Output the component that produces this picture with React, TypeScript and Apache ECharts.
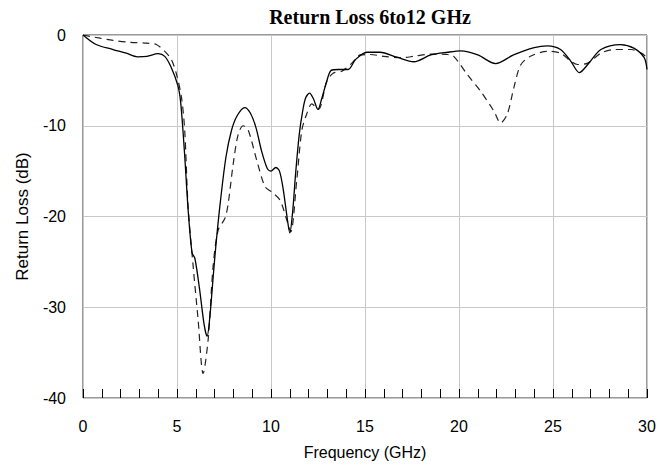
import React, { useEffect, useRef } from "react";
import * as echarts from "echarts";

const titleText = "Return Loss 6to12 GHz";
const xAxisName = "Frequency (GHz)";
const yAxisName = "Return Loss (dB)";

const solidFreq = [
  0, 0.7, 1.6, 2.3, 2.9, 3.4, 4.0, 4.35, 4.7, 5.05, 5.2, 5.4, 5.6, 5.8, 5.95,
  6.2, 6.45, 6.6, 6.75, 6.95, 7.1, 7.3, 7.6, 7.9, 8.2, 8.6, 8.9, 9.2, 9.5, 9.8,
  10.0, 10.25, 10.45, 10.65, 10.85, 11.0, 11.15, 11.3, 11.5, 11.7, 11.85, 12.05,
  12.25, 12.5, 12.7, 12.95, 13.2, 13.6, 14.1, 14.5, 15.1, 15.8, 16.7, 17.6, 18.5,
  19.4, 20.1, 21.0, 21.95, 22.9, 24.0, 24.7, 25.4, 25.95, 26.4, 26.85, 27.55,
  28.6, 29.3, 29.85, 30,
];
const solidLoss = [
  0, -1.05, -1.6, -2.0, -2.4, -2.35, -2.05, -2.35, -3.6, -5.6, -7.5, -13, -19.5,
  -24, -24.6, -28, -32, -33.2, -31, -26, -22.5, -18.5, -13.5, -10.5, -8.9, -8.0,
  -8.6, -10.2, -12.8, -14.7, -15.0, -14.6, -15.0, -17, -20, -21.8, -19.5, -15.5,
  -11, -8.2, -6.9, -6.4, -7.0, -8.2, -7.0, -5.2, -3.9, -3.8, -3.8, -2.7, -1.9,
  -1.9, -2.45, -2.95, -2.2, -1.9, -1.75, -2.2, -3.15, -2.2, -1.4, -1.2, -1.6,
  -2.9, -4.15, -3.25, -1.6, -1.05, -1.45, -2.5, -3.8,
];

const dashedFreq = [
  0, 0.9, 1.6, 2.5, 3.4, 3.9, 4.35, 4.7, 4.97, 5.24, 5.41, 5.59, 5.86, 6.12,
  6.39, 6.66, 6.92, 7.19, 7.55, 7.72, 7.99, 8.26, 8.52, 8.79, 9.24, 9.68, 10.04,
  10.48, 10.84, 11.05, 11.37, 11.64, 11.9, 12.17, 12.52, 12.97, 13.32, 13.77,
  14.3, 14.75, 15.28, 16.0, 16.9, 17.6, 18.5, 19.4, 19.72, 20.44, 21.15, 21.86,
  22.21, 22.57, 22.92, 23.28, 23.8, 24.7, 25.4, 25.95, 26.3, 26.85, 27.55, 28.25,
  29.15, 29.7, 30,
];
const dashedLoss = [
  0, -0.35, -0.6, -0.8, -0.9, -1.05, -1.8, -2.7, -4.3, -6.9, -10.5, -18.9, -25.5,
  -31.3, -37.3, -33.5, -25.5, -21.5, -20.2, -18.6, -14.2, -10.9, -10.0, -10.5,
  -13.8, -16.7, -17.3, -18.2, -20.4, -21.7, -16.0, -10.5, -8.7, -7.6, -8.2, -5.1,
  -4.2, -4.0, -3.1, -2.2, -2.15, -2.35, -2.5, -2.35, -2.1, -2.15, -2.35, -4.35,
  -6.2, -8.4, -9.7, -8.7, -5.8, -3.3, -2.35, -1.8, -2.0, -2.9, -3.25, -3.1, -2.0,
  -1.6, -1.6, -2.0, -2.5,
];

const xTicks = [0, 5, 10, 15, 20, 25, 30];
const yTicks = [0, -10, -20, -30, -40];

export default function App() {
  const ref = useRef<HTMLDivElement>(null);
  useEffect(() => {
    document.body.style.margin = "0";
    if (!ref.current) return;
    const chart = echarts.init(ref.current, undefined, { renderer: "svg" });
    const solid = solidFreq.map((f, i) => [f, solidLoss[i]]);
    const dashed = dashedFreq.map((f, i) => [f, dashedLoss[i]]);
    const sans = "Liberation Sans";
    chart.setOption({
      animation: false,
      backgroundColor: "#ffffff",
      title: {
        text: titleText,
        left: 365,
        textAlign: "center",
        top: 2,
        textStyle: {
          fontFamily: "Liberation Serif",
          fontWeight: "bold",
          fontSize: 20,
          color: "#000",
        },
      },
      grid: {
        left: 83,
        right: 13,
        top: 35,
        bottom: 70,
        show: true,
        borderColor: "#333",
        borderWidth: 1,
        backgroundColor: "transparent",
      },
      xAxis: [
        {
          type: "value",
          min: xTicks[0],
          max: xTicks[xTicks.length - 1],
          interval: 5,
          name: xAxisName,
          nameLocation: "middle",
          nameGap: 46,
          nameTextStyle: { fontFamily: sans, fontSize: 16, color: "#000" },
          axisLine: { show: false },
          axisTick: { show: false },
          axisLabel: { fontFamily: sans, fontSize: 16, color: "#000", margin: 20 },
          splitLine: { show: true, lineStyle: { color: "#c8c8c8", width: 1 } },
        },
        {
          type: "value",
          min: 0,
          max: 30,
          interval: 1,
          position: "bottom",
          axisLine: { show: false },
          axisLabel: { show: false },
          splitLine: { show: false },
          axisTick: { show: true, inside: true, length: 9, lineStyle: { color: "#000", width: 1 } },
        },
      ],
      yAxis: {
        type: "value",
        min: yTicks[yTicks.length - 1],
        max: yTicks[0],
        interval: 10,
        name: yAxisName,
        nameLocation: "middle",
        nameGap: 52,
        nameTextStyle: { fontFamily: sans, fontSize: 17, color: "#000" },
        axisLine: { show: false },
        axisTick: { show: false },
        axisLabel: { fontFamily: sans, fontSize: 16, color: "#000", margin: 17 },
        splitLine: { show: true, lineStyle: { color: "#c8c8c8", width: 1 } },
      },
      series: [
        {
          type: "line",
          data: solid,
          showSymbol: false,
          smooth: 0.3,
          lineStyle: { color: "#000", width: 1.3 },
          z: 3,
        },
        {
          type: "line",
          data: dashed,
          showSymbol: false,
          smooth: 0.3,
          lineStyle: { color: "#222", width: 1.2, type: [7, 5] },
          z: 2,
        },
      ],
    });
    return () => chart.dispose();
  }, []);
  return (
    <div
      ref={ref}
      style={{ position: "fixed", left: 0, top: 0, width: 660, height: 468 }}
    />
  );
}
